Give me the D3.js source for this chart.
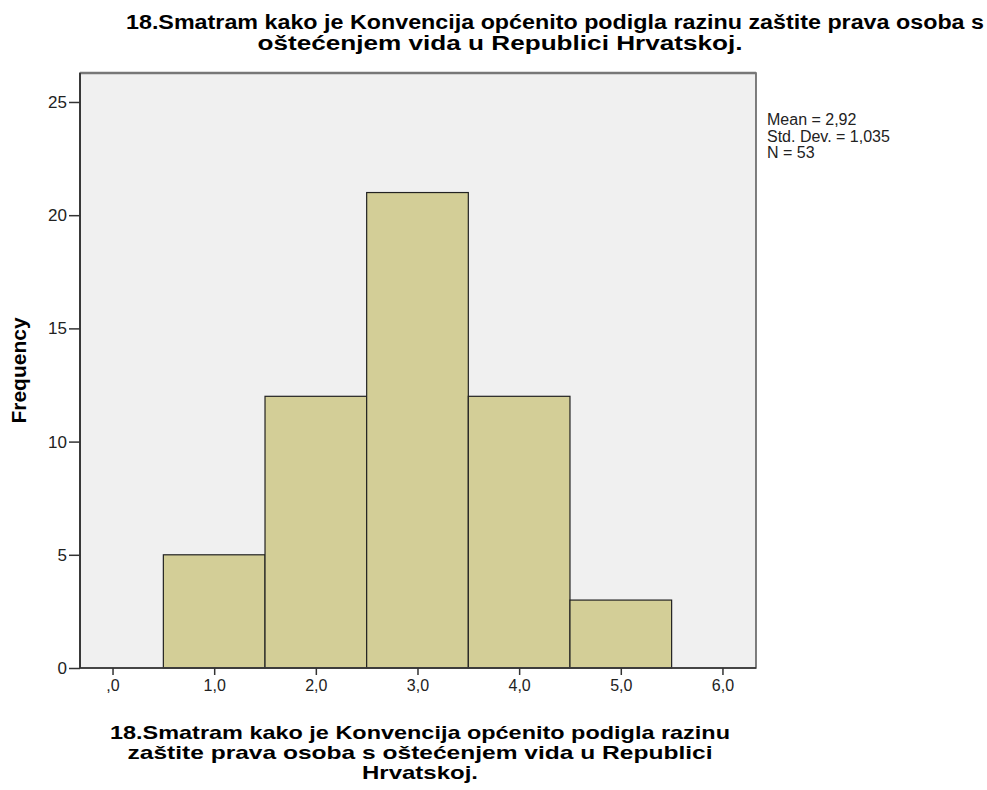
<!DOCTYPE html>
<html>
<head>
<meta charset="utf-8">
<script src="https://cdn.jsdelivr.net/npm/d3@7"></script>
<style>
  body { margin: 0; background: #fff; }
  svg { display: block; font-family: "Liberation Sans", Arial, sans-serif; }
</style>
</head>
<body>
<div id="chart"></div>
<script>
// histogram bins (value centre) and frequencies
const binCenters = [1, 2, 3, 4, 5];
const frequencies = [5, 12, 21, 12, 3];
const xTicks = [0, 1, 2, 3, 4, 5, 6];
const yTicks = [0, 5, 10, 15, 20, 25];
const titleLines = [
  "18.Smatram kako je Konvencija općenito podigla razinu zaštite prava osoba s",
  "oštećenjem vida u Republici Hrvatskoj."
];
const xTitleLines = [
  "18.Smatram kako je Konvencija općenito podigla razinu",
  "zaštite prava osoba s oštećenjem vida u Republici",
  "Hrvatskoj."
];
const statsLines = ["Mean = 2,92", "Std. Dev. = 1,035", "N = 53"];

const width = 987, height = 790;
const plot = { left: 80, right: 756, top: 73, bottom: 668 };

const svg = d3.select("#chart").append("svg")
  .attr("width", width).attr("height", height);

//--- scales ---//
const x = d3.scaleLinear().domain([-0.32, 6.33]).range([plot.left, plot.right]);
const y = d3.scaleLinear().domain([0, 26.28]).range([plot.bottom, plot.top]);

// plot background
svg.append("rect")
  .attr("x", plot.left).attr("y", plot.top)
  .attr("width", plot.right - plot.left).attr("height", plot.bottom - plot.top)
  .attr("fill", "#f0f0f0");

// bars
svg.selectAll(".bar")
  .data(binCenters)
  .enter()
  .append("rect")
  .attr("class", "bar")
  .attr("x", d => x(d - 0.5))
  .attr("y", (d, i) => y(frequencies[i]))
  .attr("width", d => x(d + 0.5) - x(d - 0.5))
  .attr("height", (d, i) => y(0) - y(frequencies[i]))
  .attr("fill", "#d3ce97")
  .attr("stroke", "#222")
  .attr("stroke-width", 1.2);

// frame
svg.append("rect")
  .attr("x", plot.left).attr("y", plot.top)
  .attr("width", plot.right - plot.left).attr("height", plot.bottom - plot.top)
  .attr("fill", "none")
  .attr("stroke", "#555")
  .attr("stroke-width", 1.5);
svg.append("line")
  .attr("x1", plot.left).attr("x2", plot.right)
  .attr("y1", plot.top).attr("y2", plot.top)
  .attr("stroke", "#777").attr("stroke-width", 2.5);
svg.append("line")
  .attr("x1", plot.left).attr("x2", plot.left)
  .attr("y1", plot.top).attr("y2", plot.bottom)
  .attr("stroke", "#222").attr("stroke-width", 1.5);
svg.append("line")
  .attr("x1", plot.left).attr("x2", plot.right)
  .attr("y1", plot.bottom).attr("y2", plot.bottom)
  .attr("stroke", "#333").attr("stroke-width", 1.5);

//--- axes ---//
const fmtX = d => d3.format(".1f")(d).replace(".", ",").replace(/^0,/, ",");

const yAxis = svg.append("g")
  .attr("transform", "translate(" + plot.left + ",0)")
  .call(d3.axisLeft(y).tickValues(yTicks).tickSize(11).tickPadding(2));
yAxis.select(".domain").remove();
yAxis.selectAll("line").attr("stroke", "#333").attr("stroke-width", 1.5);
yAxis.selectAll("text")
  .style("font-size", "17px")
  .style("font-family", "'Liberation Sans', Arial, sans-serif")
  .attr("fill", "#222");

const xAxis = svg.append("g")
  .attr("transform", "translate(0," + plot.bottom + ")")
  .call(d3.axisBottom(x).tickValues(xTicks).tickFormat(fmtX).tickSize(7).tickPadding(5));
xAxis.select(".domain").remove();
xAxis.selectAll("line").attr("stroke", "#333").attr("stroke-width", 1.5);
xAxis.selectAll("text")
  .style("font-size", "16px")
  .style("font-family", "'Liberation Sans', Arial, sans-serif")
  .attr("fill", "#222");

//--- texts ---//
// main title
svg.append("text")
  .attr("x", 555).attr("y", 29)
  .attr("text-anchor", "middle")
  .attr("textLength", 858).attr("lengthAdjust", "spacingAndGlyphs")
  .style("font-size", "20px").style("font-weight", "bold")
  .text(titleLines[0]);
svg.append("text")
  .attr("x", 500).attr("y", 50)
  .attr("text-anchor", "middle")
  .attr("textLength", 485).attr("lengthAdjust", "spacingAndGlyphs")
  .style("font-size", "20px").style("font-weight", "bold")
  .text(titleLines[1]);

// x axis title
const xTitleLengths = [620, 585, 116];
xTitleLines.forEach((t, i) => {
  svg.append("text")
    .attr("x", 420).attr("y", 739 + i * 20)
    .attr("text-anchor", "middle")
    .attr("textLength", xTitleLengths[i]).attr("lengthAdjust", "spacingAndGlyphs")
    .style("font-size", "19px").style("font-weight", "bold")
    .text(t);
});

// y axis title
svg.append("text")
  .attr("transform", "translate(26," + (plot.top + plot.bottom) / 2 + ") rotate(-90)")
  .attr("text-anchor", "middle")
  .style("font-size", "21px").style("font-weight", "bold")
  .text("Frequency");

// stats legend
svg.selectAll(".stats")
  .data(statsLines)
  .enter()
  .append("text")
  .attr("class", "stats")
  .attr("x", 767)
  .attr("y", (d, i) => 125 + i * 16.5)
  .style("font-size", "16px")
  .attr("fill", "#222")
  .text(d => d);
</script>
</body>
</html>
